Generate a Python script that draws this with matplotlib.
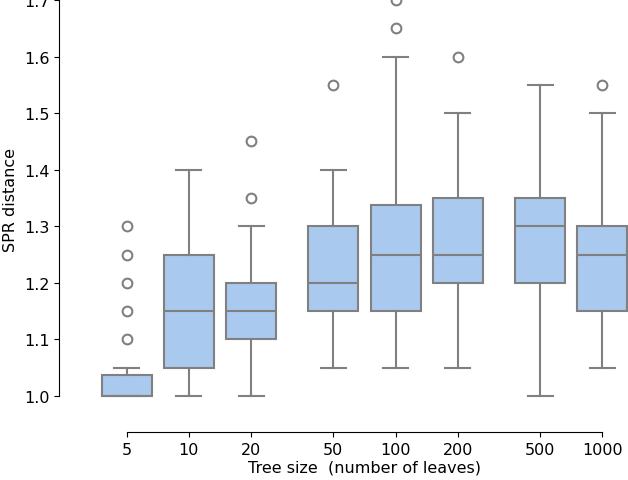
import numpy as np
import matplotlib
matplotlib.use("Agg")
import matplotlib.pyplot as plt

# tree sizes (number of leaves)
sizes = [5, 10, 20, 50, 100, 200, 500, 1000]
tick_labels = ["5", "10", "20", "50", "100", "200", "500", "1000"]

# box statistics
q1 = [1.0, 1.05, 1.10, 1.15, 1.15, 1.20, 1.20, 1.15]
med = [1.0, 1.15, 1.15, 1.20, 1.25, 1.25, 1.30, 1.25]
q3 = [1.0375, 1.25, 1.20, 1.30, 1.3375, 1.35, 1.35, 1.30]
whislo = [1.0, 1.0, 1.0, 1.05, 1.05, 1.05, 1.0, 1.05]
whishi = [1.05, 1.40, 1.30, 1.40, 1.60, 1.50, 1.55, 1.50]
fliers = [
    [1.10, 1.15, 1.20, 1.25, 1.30],
    [],
    [1.35, 1.45],
    [1.55],
    [1.65, 1.70],
    [1.60],
    [],
    [1.55],
]

face = "#a9c9ee"
edge = "#808080"

plt.rcParams["font.size"] = 11.5

fig = plt.figure(figsize=(6.28, 4.81), dpi=100)
W, H = 628.0, 481.0
# axes extends a bit past the right / top edge, like the cropped original
ax = fig.add_axes([73.2 / W, 61.6 / H, 582.6 / W, 438.0 / H])

stats = []
for i in range(len(sizes)):
    stats.append(dict(med=med[i], q1=q1[i], q3=q3[i], whislo=whislo[i],
                      whishi=whishi[i], fliers=fliers[i]))

pos = np.log10(sizes)
ax.bxp(stats, positions=pos, widths=0.242, patch_artist=True,
       boxprops=dict(facecolor=face, edgecolor=edge, linewidth=1.5),
       medianprops=dict(color=edge, linewidth=1.5),
       whiskerprops=dict(color=edge, linewidth=1.5),
       capprops=dict(color=edge, linewidth=1.5),
       flierprops=dict(marker="o", markerfacecolor="none", markeredgecolor=edge,
                       markersize=7, markeredgewidth=1.5, clip_on=False),
       manage_ticks=False)

ax.set_xlim(0.441, 3.258)
ax.set_ylim(0.96, 1.735)
ax.set_xticks(pos)
ax.set_xticklabels(tick_labels)
ax.set_yticks([1.0, 1.1, 1.2, 1.3, 1.4, 1.5, 1.6, 1.7])

# despine with offset and trimmed spines
for s in ["top", "right"]:
    ax.spines[s].set_visible(False)
ax.spines["left"].set_position(("outward", 10))
ax.spines["bottom"].set_position(("outward", 10))
ax.spines["left"].set_bounds(1.0, 1.7)
ax.spines["bottom"].set_bounds(pos[0], pos[-1])

ax.set_xlabel("Tree size  (number of leaves)", labelpad=1.5)
ax.set_ylabel("SPR distance")

fig.savefig("out.png", dpi=100)
